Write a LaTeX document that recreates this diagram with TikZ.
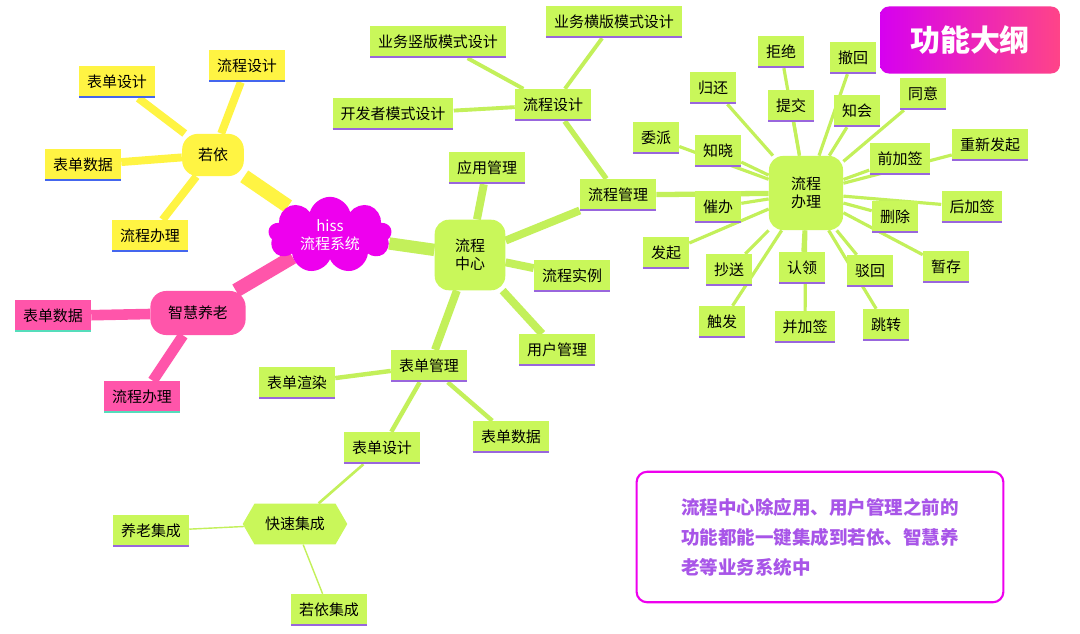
\documentclass[tikz,border=0pt]{standalone}
\usepackage{fontspec}
\newfontfamily\cjk{Noto Sans CJK SC}
\usetikzlibrary{shapes.symbols,shapes.geometric,backgrounds}
\definecolor{lime}{HTML}{C9F75A}
\definecolor{limeE}{HTML}{C3F05A}
\definecolor{yel}{HTML}{FFF443}
\definecolor{pnk}{HTML}{FF55AA}
\definecolor{mag}{HTML}{EE00EE}
\definecolor{ulp}{HTML}{9966DD}
\definecolor{ulb}{HTML}{4466EE}
\definecolor{ult}{HTML}{55DDBB}
\definecolor{notec}{HTML}{A855E8}
\tikzset{
 base/.style={font=\cjk\fontsize{8.5}{10}\selectfont, inner xsep=4.5pt, minimum height=18pt},
 ulbox/.style={base, fill=#1},
 gbox/.style={ulbox=lime, path picture={\draw[line width=1.7pt,ulp] (path picture bounding box.south west)--(path picture bounding box.south east);}},
 ybox/.style={ulbox=yel, path picture={\draw[line width=1.7pt,ulb] (path picture bounding box.south west)--(path picture bounding box.south east);}},
 pbox/.style={ulbox=pnk, path picture={\draw[line width=1.7pt,ult] (path picture bounding box.south west)--(path picture bounding box.south east);}},
 hub/.style={base, fill=lime, rounded corners=8pt, align=center, inner sep=5pt, minimum size=40pt},
 ge/.style={limeE, line width=#1},
 ye/.style={yel, line width=#1},
 pe/.style={pnk, line width=#1},
}
\begin{document}
\begin{tikzpicture}[x=0.567pt,y=-0.567pt]
\useasboundingbox (0,0) rectangle (1080,633);
\node[cloud, cloud puffs=9, aspect=1.6, fill=mag, text=white, font=\cjk\fontsize{8.5}{10}\selectfont, align=center, minimum width=70pt, minimum height=42pt, inner sep=1pt] (hiss) at (330,235) {hiss\\流程系统};
\node[base, fill=yel, rounded corners=9pt, minimum height=24pt, inner xsep=9pt] (ry) at (213,155) {若依};
\node[ybox] (ry1) at (247,66) {流程设计};
\node[ybox] (ry2) at (117,82) {表单设计};
\node[ybox] (ry3) at (83,165) {表单数据};
\node[ybox] (ry4) at (150,236) {流程办理};
\node[base, fill=pnk, rounded corners=9pt, minimum height=25pt, inner xsep=10pt] (zh) at (198,313) {智慧养老};
\node[pbox] (zh1) at (53,316) {表单数据};
\node[pbox] (zh2) at (142,397) {流程办理};
\node[hub] (zx) at (470,255) {流程\\中心};
\node[gbox] (yy) at (487,168) {应用管理};
\node[gbox] (lg) at (618,195) {流程管理};
\node[gbox] (sl) at (572,276) {流程实例};
\node[gbox] (yh) at (557,350) {用户管理};
\node[gbox] (bg) at (429,366) {表单管理};
\node[gbox] (lsj) at (553,105) {流程设计};
\node[gbox] (s1) at (438,42) {业务竖版模式设计};
\node[gbox] (s2) at (614,22) {业务横版模式设计};
\node[gbox] (s3) at (393,114) {开发者模式设计};
\node[hub, minimum size=42pt] (bl) at (806,193) {流程\\办理};
\node[gbox] (br) at (297,383) {表单渲染};
\node[gbox] (bd) at (511,437) {表单数据};
\node[gbox] (bs) at (382,448) {表单设计};
\node[signal, signal to=west and east, signal pointer angle=120, fill=lime, font=\cjk\fontsize{8.5}{10}\selectfont, minimum height=23pt, inner xsep=6pt] (kj) at (295,524) {快速集成};
\node[gbox] (k1) at (151,531) {养老集成};
\node[gbox] (k2) at (329,610) {若依集成};
\foreach \n/\x/\y/\t in {c1/781/52/拒绝, c2/853/58/撤回, c3/713/88/归还, c4/791/106/提交, c5/857/111/知会, c6/923/94/同意, c7/656/138/委派, c8/718/151/知晓, c9/900/159/前加签, c10/990/145/重新发起, c11/718/207/催办, c12/972/207/后加签, c13/895/217/删除, c14/666/253/发起, c15/729/270/抄送, c16/802/268/认领, c17/870/271/驳回, c18/946/267/暂存, c19/722/322/触发, c20/805/327/并加签, c21/886/325/跳转}
  {\node[gbox] (\n) at (\x,\y) {\t};}
\node[left color=mag!90!blue, right color=pnk!80!red, rounded corners=5pt, text=white, font=\cjk\bfseries\fontsize{17}{20}\selectfont, minimum width=102pt, minimum height=38pt] (tt) at (970,40) {功能大纲};
\node[draw=mag, line width=1.2pt, rounded corners=6pt, minimum width=208pt, minimum height=74pt, text=notec, font=\cjk\bfseries\fontsize{10.5}{17}\selectfont, align=left, inner xsep=12pt] (note) at (820,537) {流程中心除应用、用户管理之前的\\功能都能一键集成到若依、智慧养\\老等业务系统中\hspace*{8em}};
\begin{scope}[on background layer]
\fill[white] (0,0) rectangle (1080,633);
\draw[ye=8pt] (hiss) -- (ry);
\foreach \n in {ry1,ry2,ry3,ry4} \draw[ye=4.5pt] (ry) -- (\n);
\draw[pe=8pt] (hiss) -- (zh);
\foreach \n in {zh1,zh2} \draw[pe=6pt] (zh) -- (\n);
\draw[ge=7pt] (hiss) -- (zx);
\foreach \n in {yy,lg,sl,yh,bg} \draw[ge=4.5pt] (zx) -- (\n);
\draw[ge=3pt] (lg) -- (lsj);
\draw[ge=3pt] (lg) -- (bl);
\foreach \n in {s1,s2,s3} \draw[ge=2.2pt] (lsj) -- (\n);
\foreach \n in {br,bd,bs} \draw[ge=2.5pt] (bg) -- (\n);
\draw[ge=1.5pt] (bs) -- (kj);
\foreach \n in {k1,k2} \draw[ge=0.8pt] (kj) -- (\n);
\foreach \n in {c1,c2,c3,c4,c5,c6,c7,c8,c9,c10,c11,c12,c13,c14,c15,c16,c17,c18,c19,c20,c21} \draw[ge=1.8pt] (bl) -- (\n);
\end{scope}
\end{tikzpicture}
\end{document}
